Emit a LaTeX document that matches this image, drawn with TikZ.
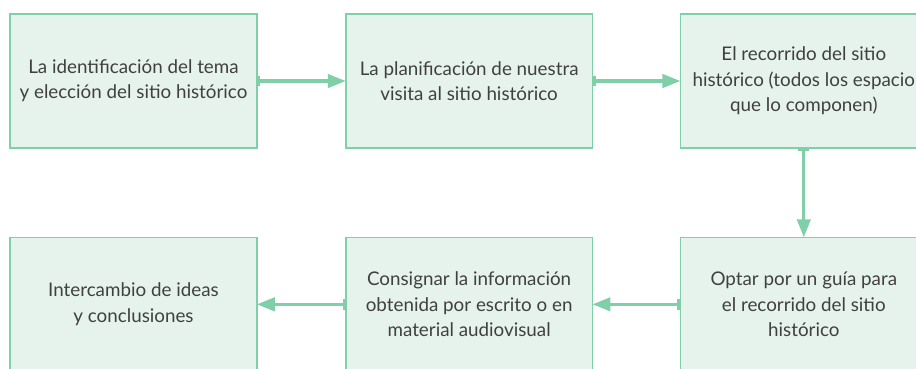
\documentclass[tikz,border=0pt]{standalone}
\usepackage{fontspec}
\setmainfont{Lato}
\usetikzlibrary{positioning, arrows.meta}

\definecolor{menta}{HTML}{7FCFA8}
\definecolor{mentaclaro}{HTML}{E6F3EC}
\definecolor{gristexto}{HTML}{404040}

\begin{document}
\begin{tikzpicture}[
    etapa/.style={draw=menta, fill=mentaclaro, line width=1.2pt, outer sep=0pt, inner sep=0pt,
        minimum width=185pt, minimum height=100.5pt, align=center, text=gristexto,
        font=\fontsize{14.1}{19}\selectfont},
    flecha/.style={draw=menta, line width=2.4pt,
        {Bar[width=8pt, line width=2.4pt]}-{Triangle[length=13.5pt, width=10pt]}}
]

% Recorte del dibujo
\useasboundingbox (0,0) rectangle (687pt,-276pt);
\clip (0,0) rectangle (687pt,-276pt);

% Fila superior
\node[etapa] (tema) at (100.1pt,-60.75pt) {La identificación del tema\\y elección del sitio histórico};
\node[etapa, right=66.75pt of tema] (plan) {La planificación de nuestra\\visita al sitio histórico};
\node[etapa, right=66pt of plan] (recorrido) {El recorrido del sitio\\histórico (todos los espacio\\que lo componen)};

% Fila inferior
\node[etapa, below=67pt of recorrido] (guia) {Optar por un guía para\\el recorrido del sitio\\histórico};
\node[etapa, below=67pt of plan] (consignar) {Consignar la información\\obtenida por escrito o en\\material audiovisual};
\node[etapa, below=67pt of tema] (intercambio) {Intercambio de ideas\\y conclusiones};

% Flechas
\draw[flecha] (tema.east) -- (plan.west);
\draw[flecha] (plan.east) -- (recorrido.west);
\draw[flecha] (recorrido.south) -- (guia.north);
\draw[flecha] (guia.west) -- (consignar.east);
\draw[flecha] (consignar.west) -- (intercambio.east);

\end{tikzpicture}
\end{document}
